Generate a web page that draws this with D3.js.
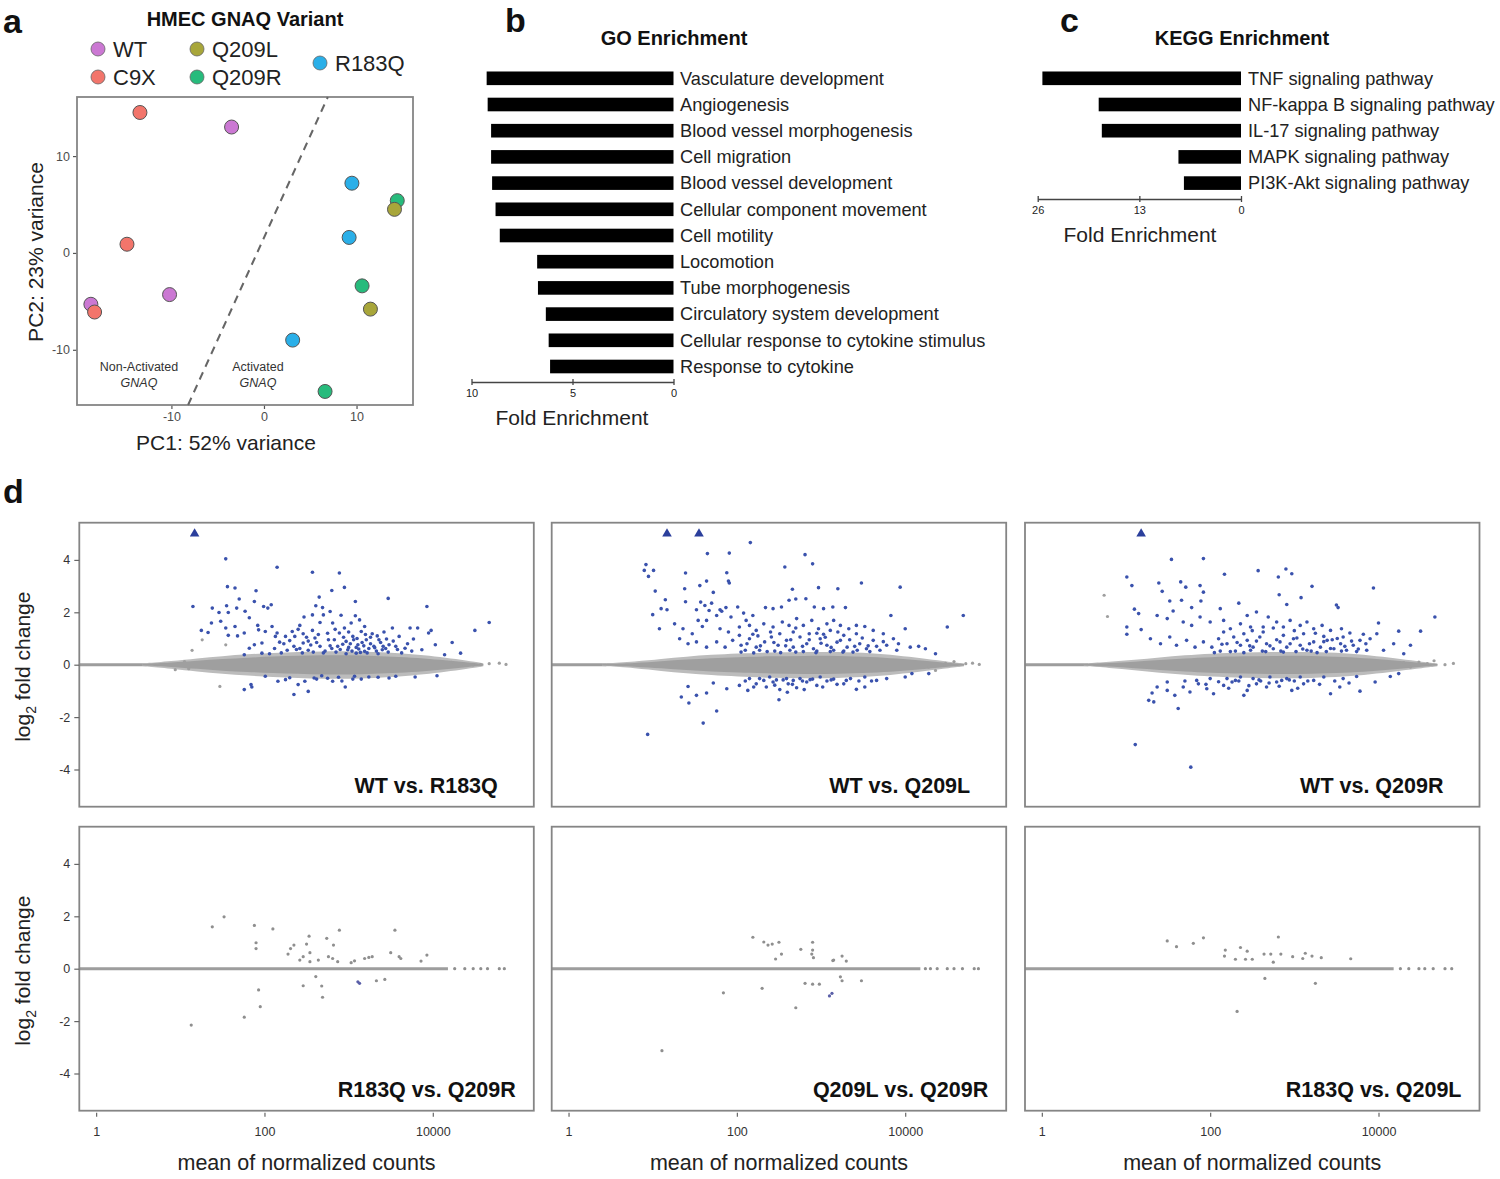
<!DOCTYPE html>
<html>
<head>
<meta charset="utf-8">
<script src="https://cdn.jsdelivr.net/npm/d3@7"></script>
<style>
  html, body { margin: 0; padding: 0; background: #fff; }
  svg { display: block; font-family: "Liberation Sans", Arial, Helvetica, sans-serif; }
</style>
</head>
<body>
<svg id="fig" width="1500" height="1179"></svg>
<script>
// ---------------- DATA ----------------
// Panel a: PCA
const pcaGroups = ["WT", "C9X", "Q209L", "Q209R", "R183Q"];
const pcaSample = ["C9X", "WT", "R183Q", "Q209R", "Q209L", "R183Q", "C9X", "Q209R", "WT", "Q209L", "WT", "C9X", "R183Q", "Q209R"];
const pcaPC1 = [-13.4, -3.5, 9.5, 14.4, 14.1, 9.2, -14.8, 10.6, -10.2, 11.5, -18.7, -18.3, 3.1, 6.6];
const pcaPC2 = [14.5, 13.0, 7.2, 5.4, 4.5, 1.6, 0.9, -3.4, -4.3, -5.8, -5.3, -6.1, -9.0, -14.3];
const pcaTicks = [-10, 0, 10];
const dividerPC1 = [-8.2, 6.9];
const dividerPC2 = [-15.7, 16.1];

// Panel b: GO enrichment
const goTerms = ["Vasculature development", "Angiogenesis", "Blood vessel morphogenesis", "Cell migration",
  "Blood vessel development", "Cellular component movement", "Cell motility", "Locomotion",
  "Tube morphogenesis", "Circulatory system development", "Cellular response to cytokine stimulus", "Response to cytokine"];
const goFold = [9.25, 9.2, 9.03, 9.03, 8.98, 8.81, 8.6, 6.75, 6.71, 6.32, 6.18, 6.11];
const goTicks = [10, 5, 0];

// Panel c: KEGG enrichment
const keggTerms = ["TNF signaling pathway", "NF-kappa B signaling pathway", "IL-17 signaling pathway",
  "MAPK signaling pathway", "PI3K-Akt signaling pathway"];
const keggFold = [25.4, 18.2, 17.8, 8.0, 7.3];
const keggTicks = [26, 13, 0];

// Panel d: MA plots  (points are [log10 mean of normalized counts, log2 fold change])
const maTitles = ["WT vs. R183Q", "WT vs. Q209L", "WT vs. Q209R", "R183Q vs. Q209R", "Q209L vs. Q209R", "R183Q vs. Q209L"];
const maYTicks = [-4, -2, 0, 2, 4];
const maXTicks = [1, 100, 10000];

// capped (triangle) points: log10 mean values, plotted at lfc = 5
const maTri1 = [1.17];
const maTri2 = [1.17, 1.55];
const maTri3 = [1.18];

// gray density band envelope per top panel (core and fuzzy outer edge)
const band1Lx = [0.55, 0.9, 1.2, 1.5, 1.8, 2.1, 2.4, 2.7, 3.0, 3.3, 3.6, 3.9, 4.15, 4.4, 4.6];
const band1Hi = [0.03, 0.08, 0.15, 0.22, 0.27, 0.31, 0.34, 0.36, 0.36, 0.34, 0.30, 0.24, 0.17, 0.09, 0.03];
const band1Lo = [-0.03, -0.08, -0.16, -0.23, -0.28, -0.32, -0.35, -0.38, -0.38, -0.35, -0.31, -0.25, -0.17, -0.09, -0.03];
const band1OutHi = [0.05, 0.14, 0.24, 0.33, 0.40, 0.45, 0.49, 0.51, 0.51, 0.49, 0.44, 0.36, 0.27, 0.16, 0.06];
const band1OutLo = [-0.05, -0.15, -0.26, -0.35, -0.42, -0.47, -0.51, -0.54, -0.54, -0.51, -0.46, -0.37, -0.27, -0.16, -0.06];
const band2Lx = [0.4, 0.8, 1.1, 1.4, 1.7, 2.0, 2.4, 2.8, 3.2, 3.6, 3.9, 4.2, 4.45, 4.7];
const band2Hi = [0.03, 0.06, 0.13, 0.20, 0.25, 0.29, 0.32, 0.34, 0.34, 0.30, 0.24, 0.16, 0.08, 0.03];
const band2Lo = [-0.03, -0.07, -0.14, -0.21, -0.26, -0.30, -0.34, -0.36, -0.35, -0.31, -0.25, -0.17, -0.09, -0.03];
const band2OutHi = [0.05, 0.12, 0.22, 0.31, 0.38, 0.43, 0.47, 0.49, 0.49, 0.44, 0.36, 0.25, 0.14, 0.05];
const band2OutLo = [-0.05, -0.13, -0.24, -0.33, -0.40, -0.45, -0.50, -0.52, -0.51, -0.46, -0.37, -0.26, -0.15, -0.06];
const band3Lx = [0.5, 0.8, 1.1, 1.4, 1.7, 2.0, 2.4, 2.8, 3.2, 3.6, 3.9, 4.2, 4.45, 4.7];
const band3Hi = [0.03, 0.06, 0.11, 0.18, 0.24, 0.29, 0.32, 0.34, 0.34, 0.30, 0.24, 0.16, 0.08, 0.03];
const band3Lo = [-0.03, -0.07, -0.13, -0.20, -0.26, -0.31, -0.34, -0.36, -0.35, -0.31, -0.25, -0.17, -0.09, -0.03];
const band3OutHi = [0.05, 0.11, 0.19, 0.28, 0.36, 0.42, 0.47, 0.49, 0.49, 0.44, 0.36, 0.25, 0.14, 0.05];
const band3OutLo = [-0.05, -0.12, -0.21, -0.31, -0.39, -0.46, -0.50, -0.52, -0.51, -0.46, -0.37, -0.26, -0.15, -0.06];

// zero-line extent (log10 mean where the straight line ends) per panel
const maLineEnd = [0.6, 0.45, 0.55, 4.18, 4.18, 4.18];

const maBlue1 = [[1.54,4.04],[2.15,3.72],[2.57,3.53],[2.89,3.50],[1.56,2.98],[1.65,2.93],[1.90,2.82],[2.80,2.83],[2.95,2.95],[1.15,2.22],
[1.88,2.41],[1.99,2.22],[2.04,2.16],[1.70,2.51],[2.08,2.29],[2.65,2.58],[2.61,2.25],[3.47,2.53],[3.93,2.22],[3.08,2.41],
[1.38,2.16],[1.46,1.99],[1.55,2.25],[1.57,1.99],[1.67,2.16],[1.77,2.04],[1.82,1.79],[1.37,1.59],[1.48,1.66],[1.54,1.40],
[1.65,1.46],[1.25,1.31],[1.33,1.23],[1.57,1.12],[1.68,1.10],[1.92,1.50],[1.76,1.21],[1.93,1.33],[2.01,1.27],[1.88,0.76],
[1.97,0.83],[2.13,1.08],[2.18,0.86],[2.25,1.08],[2.33,1.27],[2.36,1.08],[2.42,1.50],[2.47,1.82],[2.57,1.90],[2.69,2.18],
[2.70,1.90],[2.78,2.03],[2.91,1.89],[2.81,1.59],[2.66,1.61],[2.57,1.31],[2.46,1.18],[2.60,1.02],[2.46,0.83],[2.35,0.70],
[2.27,0.55],[2.52,0.55],[2.66,0.70],[2.76,0.95],[2.89,1.21],[2.95,1.40],[3.03,1.59],[3.08,1.87],[3.13,1.71],[3.19,1.46],
[3.15,1.27],[3.05,1.08],[2.97,0.89],[2.87,0.70],[2.99,0.57],[3.11,0.76],[3.21,0.95],[3.28,1.18],[3.36,0.95],[3.30,0.70],
[3.19,0.51],[3.09,0.44],[3.40,0.57],[3.48,0.76],[3.52,1.40],[3.60,1.08],[3.56,0.70],[3.67,0.63],[3.73,1.40],[3.82,1.40],
[3.77,0.98],[3.87,0.57],[3.95,1.21],[3.98,1.31],[4.03,0.76],[4.14,0.38],[4.23,0.85],[4.33,0.44],[4.50,1.31],[4.67,1.61],
[2.09,1.46],[2.15,1.21],[2.23,0.80],[1.97,0.44],[1.82,0.63],[1.76,0.38],
[2.72,0.52],[2.80,0.62],[2.85,0.48],[2.93,0.78],[3.00,0.66],[3.04,0.52],[3.12,0.60],[3.16,0.85],[3.24,0.62],[3.26,0.80],
[3.33,0.52],[3.38,0.85],[3.44,0.62],[2.62,0.85],[2.55,0.75],[2.42,0.62],[2.30,0.92],[2.50,1.05],[3.10,1.00],[2.94,1.05],
[3.34,1.10],[3.45,0.98],
[2.70,0.45],[2.78,0.72],[2.83,0.95],[2.90,0.58],[2.97,0.42],[3.02,0.80],[3.06,0.95],[3.09,0.66],[3.14,0.47],[3.18,0.72],
[3.22,0.45],[3.26,1.05],[3.31,0.65],[3.35,0.42],[3.41,0.70],[3.47,0.48],[3.53,0.90],[3.58,0.58],[3.63,0.45],[3.70,0.80],
[3.75,0.52],[2.58,0.48],[2.52,0.90],[2.45,0.45],[2.38,0.58],[2.20,0.45],[2.12,0.62],[2.06,0.42],[3.00,1.25],[3.20,1.15],
[2.84,1.35],[3.42,1.25],[2.75,1.20],[2.64,1.15],[2.40,1.35],
[1.76,-0.95],[1.84,-0.76],[1.85,-0.85],[2.01,-0.44],[2.16,-0.63],[2.25,-0.57],[2.35,-1.14],[2.40,-0.76],[2.48,-0.63],[2.52,-1.02],
[2.59,-0.51],[2.68,-0.42],[2.81,-0.63],[2.96,-0.85],[3.07,-0.44],[3.24,-0.47],[3.48,-0.51],[3.56,-0.44],[3.79,-0.47],[4.05,-0.42],
[2.75,-0.52],[2.88,-0.48],[3.15,-0.55],[2.30,-0.50],[3.05,-0.55],[2.92,-0.62],[3.35,-0.48],[2.62,-0.55]];
const maGray1 = [[1.14,0.55],[1.54,0.76],[1.47,-0.83],[1.26,0.95],[0.94,-0.19],[1.05,0.12],[1.10,-0.15],
[4.22,0.09],[4.36,0.04],[4.48,-0.01],[4.57,0.0],[4.67,0.04],[4.79,0.06],[4.87,0.01]];

const maBlue2 = [[2.16,4.66],[1.65,4.24],[1.91,4.26],[2.81,4.20],[2.90,3.85],[0.92,3.82],[1.01,3.60],[0.90,3.60],[0.95,3.37],[1.39,3.50],
[1.88,3.51],[1.91,3.12],[1.90,3.19],[1.64,3.19],[2.57,3.73],[3.48,3.12],[3.94,2.96],[1.03,2.81],[1.38,2.90],[1.56,3.02],
[1.72,2.76],[2.66,2.88],[2.82,2.52],[2.97,2.94],[3.20,2.90],[2.70,2.51],[2.62,2.46],[1.15,2.48],[1.39,2.40],[1.57,2.39],
[1.62,2.26],[1.70,2.35],[1.10,2.14],[1.17,2.10],[1.52,2.10],[1.67,2.07],[1.80,2.10],[1.87,2.18],[2.01,2.20],[1.00,1.91],
[1.54,1.69],[1.64,1.69],[1.76,1.88],[1.82,2.04],[1.93,1.82],[2.08,1.97],[2.19,1.88],[2.34,2.18],[2.43,2.14],[2.53,2.20],
[2.92,2.20],[3.03,2.14],[3.14,2.20],[3.29,2.18],[3.83,1.88],[4.69,1.88],[4.50,1.44],[4.00,1.37],[1.08,1.37],[1.26,1.56],
[1.36,1.37],[1.47,1.18],[1.59,1.46],[1.80,1.37],[1.90,1.25],[2.03,1.44],[2.11,1.69],[2.15,1.50],[2.23,1.31],[2.32,1.56],
[2.43,1.44],[2.54,1.63],[2.62,1.50],[2.71,1.76],[2.79,1.50],[2.89,1.69],[2.97,1.37],[3.07,1.56],[3.15,1.69],[3.23,1.50],
[3.33,1.37],[3.42,1.50],[3.52,1.46],[3.62,1.31],[3.74,1.18],[3.86,0.99],[3.92,0.80],[4.06,0.67],[4.24,0.61],[4.36,0.42],
[1.32,0.99],[1.42,0.80],[1.52,0.87],[1.64,0.67],[1.76,0.87],[1.86,0.67],[1.95,0.93],[2.05,0.74],[2.15,0.99],[2.23,0.67],
[2.33,0.87],[2.41,1.06],[2.49,0.74],[2.59,0.93],[2.67,0.67],[2.75,1.06],[2.83,0.80],[2.91,0.61],[2.99,0.99],[3.07,0.74],
[3.15,0.55],[3.23,0.93],[3.31,0.67],[3.38,0.48],[3.46,0.80],[3.54,0.61],[3.62,0.93],[3.70,0.55],[3.78,0.74],[3.90,0.55],
[2.03,1.12],[2.19,1.16],[2.51,1.18],[2.67,1.25],[2.86,1.18],[3.03,1.16],[3.11,1.31],[3.27,1.12],[3.42,1.18],[4.16,0.70],
[2.27,0.55],[2.45,0.52],[2.63,0.55],[2.79,0.50],[2.95,0.52],[3.11,0.50],[3.27,0.52],[3.43,0.55],[3.58,0.50],[2.10,0.55],
[2.05,0.48],[2.12,0.80],[2.20,0.45],[2.28,0.72],[2.36,0.50],[2.44,0.85],[2.52,0.46],[2.58,0.72],[2.64,0.95],[2.70,0.48],
[2.78,0.70],[2.86,0.95],[2.94,0.46],[3.00,0.82],[3.05,1.05],[3.12,0.66],[3.19,0.86],[3.26,0.48],[3.34,0.95],[3.40,0.70],
[3.49,1.02],[3.56,0.72],[3.66,0.70],[3.74,0.88],[2.70,1.40],[2.95,1.20],[3.20,1.25],[2.40,1.25],[2.25,1.10],
[0.94,-2.66],[1.60,-2.23],[1.76,-1.77],[2.50,-1.34],[1.34,-1.23],[1.43,-1.46],[1.52,-1.17],[1.64,-1.08],[1.42,-0.83],[1.72,-0.70],
[1.88,-0.92],[2.03,-0.79],[2.13,-0.98],[2.23,-0.73],[2.35,-0.85],[2.43,-0.66],[2.51,-0.95],[2.61,-0.73],[2.71,-0.88],[2.83,-0.66],
[2.95,-0.79],[3.07,-0.62],[3.19,-0.75],[3.27,-0.73],[3.42,-0.94],[3.52,-0.85],[3.66,-0.60],[3.78,-0.53],[4.00,-0.47],[4.08,-0.34],
[4.28,-0.34],[2.15,-0.53],[2.27,-0.53],[2.39,-0.47],[2.59,-0.53],[2.75,-0.53],[2.99,-0.47],[3.35,-0.53],[3.52,-0.47],[2.47,-0.58],
[2.67,-0.60],[2.87,-0.57],[3.15,-0.55],[3.60,-0.62],
[2.10,-0.62],[2.20,-0.85],[2.32,-0.60],[2.45,-0.78],[2.55,-0.58],[2.66,-0.75],[2.78,-0.62],[2.90,-0.55],[3.02,-0.85],[3.12,-0.58],
[3.30,-0.60],[3.45,-0.62],[2.80,-0.95],[2.60,-1.05]];
const maGray2 = [[4.48,0.05],[4.58,0.12],[4.72,0.04],[4.80,0.06],[4.88,0.01],[4.28,-0.09],[4.36,-0.22],[4.44,-0.02]];

const maBlue3 = [[1.54,4.02],[1.92,4.05],[2.17,3.45],[2.57,3.59],[2.81,3.35],[2.90,3.65],[2.97,3.47],[3.21,2.99],[3.94,2.93],[1.01,3.35],
[1.07,3.02],[1.39,3.12],[1.65,3.16],[1.71,2.96],[1.88,3.02],[1.92,2.77],[1.43,2.80],[1.52,2.43],[1.66,2.46],[1.89,2.43],
[2.34,2.35],[2.82,2.67],[2.91,2.30],[3.08,2.56],[3.50,2.28],[3.52,2.18],[4.67,1.82],[4.50,1.28],[4.24,1.28],[4.00,1.59],
[1.10,2.12],[1.15,1.95],[1.01,1.44],[1.01,1.16],[1.18,1.34],[1.37,1.88],[1.49,1.76],[1.56,2.05],[1.78,2.18],[1.68,1.63],
[1.78,1.50],[1.88,1.82],[2.00,1.63],[2.12,2.14],[2.16,1.69],[2.24,1.37],[2.36,1.56],[2.44,1.88],[2.48,1.44],[2.55,2.01],
[2.63,1.44],[2.69,1.82],[2.79,1.63],[2.87,1.44],[2.95,1.69],[3.07,1.50],[3.15,1.63],[3.23,1.37],[3.33,1.50],[3.43,1.31],
[3.56,1.37],[3.66,1.21],[3.82,1.16],[3.90,0.99],[3.98,1.18],[4.18,0.80],[4.38,0.74],
[1.29,0.99],[1.41,0.80],[1.52,1.06],[1.60,0.74],[1.72,0.93],[1.82,0.67],[1.92,0.87],[2.02,0.67],[2.10,0.99],[2.20,0.80],
[2.28,1.06],[2.36,0.74],[2.44,0.93],[2.51,0.67],[2.59,1.06],[2.67,0.80],[2.75,0.61],[2.83,0.87],[2.91,0.67],[2.99,0.99],
[3.07,0.74],[3.15,0.55],[3.23,0.87],[3.31,0.67],[3.39,0.93],[3.47,0.61],[3.55,0.80],[3.62,0.55],[3.70,0.74],[3.78,0.93],
[3.86,0.55],[4.06,0.55],[4.30,0.42],[2.16,1.25],[2.40,1.18],[2.63,1.25],[2.87,1.12],[3.11,1.18],[3.35,1.08],[3.58,1.06],
[2.30,0.52],[2.48,0.55],[2.66,0.50],[2.84,0.52],[3.02,0.50],[3.20,0.52],[3.38,0.50],[3.56,0.52],[3.74,0.50],[2.12,0.52],
[2.05,0.46],[2.14,0.78],[2.24,0.50],[2.32,0.85],[2.40,0.46],[2.47,0.72],[2.55,0.90],[2.62,0.52],[2.71,0.72],[2.79,0.95],
[2.87,0.48],[2.95,0.80],[3.03,1.02],[3.10,0.60],[3.18,0.80],[3.27,0.46],[3.35,0.88],[3.43,0.62],[3.51,1.00],[3.60,0.70],
[3.68,0.90],[3.76,0.60],[3.85,0.80],[2.50,1.30],[2.75,1.40],[3.00,1.30],[3.25,1.20],[3.45,0.95],
[1.11,-3.05],[1.77,-3.91],[1.62,-1.67],[1.27,-1.36],[1.33,-1.42],[1.31,-1.08],[1.37,-0.85],[1.49,-0.98],[1.58,-1.17],[1.68,-0.85],
[1.76,-1.04],[1.86,-0.73],[1.96,-0.92],[2.04,-1.11],[2.16,-0.79],[2.26,-0.66],[2.40,-1.17],[2.44,-0.98],[2.55,-0.73],[2.67,-0.85],
[2.79,-0.66],[2.97,-0.98],[3.11,-0.73],[3.23,-0.60],[3.43,-1.11],[3.54,-0.85],[3.78,-1.01],[3.96,-0.66],[4.14,-0.45],[4.24,-0.34],
[2.00,-0.53],[2.20,-0.53],[2.36,-0.47],[2.51,-0.53],[2.71,-0.47],[2.91,-0.53],[3.07,-0.47],[3.35,-0.47],[3.58,-0.53],[3.74,-0.45],
[1.84,-0.60],[1.49,-0.66],[2.30,-0.60],[2.60,-0.62],[2.85,-0.60],[3.00,-0.62],
[2.10,-0.65],[2.22,-0.90],[2.34,-0.62],[2.46,-0.80],[2.58,-0.58],[2.70,-0.70],[2.82,-0.82],[2.94,-0.58],[3.04,-0.90],[3.16,-0.62],
[3.30,-0.75],[3.48,-0.62],[3.65,-0.70],[1.95,-0.75],[1.70,-0.62]];
const maGray3 = [[0.74,2.65],[0.78,1.84],[4.30,0.08],[4.38,-0.09],[4.48,0.10],[4.58,0.04],[4.66,0.15],[4.79,0.0],[4.89,0.05]];

const maPts4 = [[1.13,-2.15],[1.38,1.60],[1.52,1.98],[1.76,-1.85],[1.88,1.65],[1.90,0.99],[1.90,0.77],[1.93,-0.81],[1.95,-1.45],[2.10,1.52],
[2.28,0.56],[2.31,0.77],[2.35,0.90],[2.42,0.33],[2.46,0.46],[2.46,-0.65],[2.50,0.94],[2.53,1.24],[2.54,0.61],[2.54,0.27],
[2.61,-0.30],[2.64,0.33],[2.68,-0.66],[2.69,-1.09],[2.74,1.16],[2.76,0.46],[2.82,0.90],[2.81,0.39],[2.89,1.47],[2.87,0.27],
[3.03,0.23],[3.07,0.30],[3.19,0.39],[3.24,0.43],[3.28,0.46],[3.33,-0.46],[3.43,-0.41],[3.50,0.61],[3.55,1.47],[3.60,0.46],
[3.62,0.39],[3.86,0.29],[3.93,0.52],
[4.26,0],[4.38,0],[4.48,0],[4.57,0],[4.65,0],[4.79,0],[4.85,0]];
const maBluePts4 = [[3.11,-0.50],[3.13,-0.56]];
const maPts5 = [[1.11,-3.13],[1.84,-0.92],[2.19,1.20],[2.30,-0.75],[2.32,1.02],[2.37,0.90],[2.42,0.94],[2.50,1.01],[2.46,0.37],[2.53,0.56],
[2.70,-1.49],[2.76,0.74],[2.81,-0.56],[2.90,1.01],[2.90,0.71],[2.89,0.56],[2.91,0.42],[2.90,-0.59],[2.98,-0.59],[3.14,0.31],
[3.15,0.33],[3.23,-0.31],[3.25,0.48],[3.25,-0.46],[3.30,0.29],[3.48,-0.46],
[4.24,0],[4.30,0],[4.38,0],[4.50,0],[4.58,0],[4.68,0],[4.82,0],[4.87,0]];
const maBluePts5 = [[3.10,-1.04],[3.13,-0.94]];
const maPts6 = [[1.49,1.06],[1.60,0.84],[1.80,0.97],[1.92,1.18],[2.18,0.71],[2.17,0.48],[2.30,0.36],[2.32,-1.63],[2.36,0.81],[2.42,0.36],
[2.44,0.67],[2.50,0.36],[2.64,0.56],[2.65,-0.37],[2.72,0.56],[2.75,0.25],[2.81,1.21],[2.84,0.56],[2.98,0.46],[3.10,0.39],
[3.13,0.59],[3.21,0.48],[3.25,-0.56],[3.32,0.42],[3.67,0.38],
[4.26,0],[4.36,0],[4.48,0],[4.55,0],[4.65,0],[4.79,0],[4.87,0]];
const maBluePts6 = [];

// ---------------- STYLE / LAYOUT ----------------
const groupColor = { "WT": "#cb78d3", "C9X": "#f2756b", "Q209L": "#a8a63a", "Q209R": "#27bb7c", "R183Q": "#2aafe8" };
const BLUE = "#3a52ad", GRAY = "#9f9f9f", GRAY_OUT = "#bcbcbc", BOX = "#858585";
const FONT_TXT = "#222";

const svg = d3.select("#fig");

function panelLabel(t, x, y) {
  svg.append("text").attr("x", x).attr("y", y).text(t)
    .attr("font-size", 34).attr("font-weight", "bold").attr("fill", "#111");
}
panelLabel("a", 3, 33);
panelLabel("b", 505, 32);
panelLabel("c", 1060, 32);
panelLabel("d", 3, 503);

// ---------------- Panel a ----------------
(function () {
  const L = 77, R = 413, T = 97, B = 405;
  const x = d3.scaleLinear().domain([-20.2, 16.1]).range([L, R]);
  const y = d3.scaleLinear().domain([-15.7, 16.1]).range([B, T]);
  const g = svg.append("g");
  const fmt = d => String(d);

  const xa = g.append("g").attr("transform", `translate(0,${B})`)
    .call(d3.axisBottom(x).tickValues(pcaTicks).tickSize(4).tickPadding(3).tickFormat(fmt));
  const ya = g.append("g").attr("transform", `translate(${L},0)`)
    .call(d3.axisLeft(y).tickValues(pcaTicks).tickSize(4).tickPadding(3).tickFormat(fmt));
  [xa, ya].forEach(a => {
    a.select(".domain").remove();
    a.selectAll(".tick line").attr("stroke", "#555").attr("stroke-width", 1.2);
    a.selectAll(".tick text").attr("font-size", 12.5).attr("fill", "#4d4d4d").attr("font-family", "Liberation Sans, Arial");
  });

  g.append("rect").attr("x", L).attr("y", T).attr("width", R - L).attr("height", B - T)
    .attr("fill", "none").attr("stroke", BOX).attr("stroke-width", 1.8);

  g.append("line")
    .attr("x1", x(dividerPC1[0])).attr("y1", y(dividerPC2[0]))
    .attr("x2", x(dividerPC1[1])).attr("y2", y(dividerPC2[1]))
    .attr("stroke", "#666").attr("stroke-width", 2).attr("stroke-dasharray", "8,6");

  const ann = [["Non-Activated", 139], ["Activated", 258]];
  ann.forEach(([t, cx]) => {
    g.append("text").attr("x", cx).attr("y", 371).attr("text-anchor", "middle")
      .attr("font-size", 12.5).attr("fill", "#333").text(t);
    g.append("text").attr("x", cx).attr("y", 387).attr("text-anchor", "middle")
      .attr("font-size", 12.5).attr("font-style", "italic").attr("fill", "#333").text("GNAQ");
  });

  g.selectAll("circle.pt").data(pcaSample).join("circle").attr("class", "pt")
    .attr("cx", (d, i) => x(pcaPC1[i])).attr("cy", (d, i) => y(pcaPC2[i])).attr("r", 7)
    .attr("fill", d => groupColor[d]).attr("stroke", "#555").attr("stroke-width", 1);

  g.append("text").attr("x", 226).attr("y", 450).attr("text-anchor", "middle")
    .attr("font-size", 21).attr("fill", FONT_TXT).text("PC1: 52% variance");
  g.append("text").attr("transform", "translate(43,252) rotate(-90)").attr("text-anchor", "middle")
    .attr("font-size", 21).attr("fill", FONT_TXT).text("PC2: 23% variance");

  // legend
  g.append("text").attr("x", 245).attr("y", 26).attr("text-anchor", "middle")
    .attr("font-size", 20).attr("font-weight", "bold").attr("fill", "#111").text("HMEC GNAQ Variant");
  const legPos = { "WT": [98, 49], "C9X": [98, 77], "Q209L": [197, 49], "Q209R": [197, 77], "R183Q": [320, 63] };
  pcaGroups.forEach(k => {
    const [cx, cy] = legPos[k];
    g.append("circle").attr("cx", cx).attr("cy", cy).attr("r", 7).attr("fill", groupColor[k])
      .attr("stroke", "#666").attr("stroke-width", 0.8);
    g.append("text").attr("x", cx + 15).attr("y", cy + 8).attr("font-size", 22).attr("fill", FONT_TXT).text(k);
  });
})();

// ---------------- Panel b & c (bar charts) ----------------
function enrichment(terms, vals, ticks, domMax, x0, x1, top, step, axisY, labelX, title, titleX, foldX, foldY) {
  const g = svg.append("g");
  const x = d3.scaleLinear().domain([0, domMax]).range([x1, x0]);
  const y = d3.scaleBand().domain(terms).range([top, top + step * terms.length]).paddingInner(0.48).paddingOuter(0.24);
  g.selectAll("rect").data(terms).join("rect")
    .attr("x", (d, i) => x(vals[i])).attr("y", d => y(d))
    .attr("width", (d, i) => x(0) - x(vals[i])).attr("height", y.bandwidth()).attr("fill", "#000");
  g.selectAll("text.lab").data(terms).join("text").attr("class", "lab")
    .attr("x", labelX).attr("y", d => y(d) + y.bandwidth() / 2 + 6.3)
    .attr("font-size", 18.2).attr("fill", FONT_TXT).text(d => d);
  const ax = g.append("g").attr("transform", `translate(0,${axisY})`)
    .call(d3.axisBottom(x).tickValues(ticks).tickSize(3).tickSizeOuter(0).tickPadding(4));
  ax.select(".domain").attr("stroke", "#444").attr("stroke-width", 1.3);
  ax.selectAll(".tick line").attr("stroke", "#444").attr("y1", -3).attr("y2", 3).attr("stroke-width", 1.3);
  ax.selectAll(".tick text").attr("font-size", 11).attr("fill", "#222").attr("font-family", "Liberation Sans, Arial");
  g.append("text").attr("x", titleX).attr("y", 45).attr("text-anchor", "middle")
    .attr("font-size", 20).attr("font-weight", "bold").attr("fill", "#111").text(title);
  g.append("text").attr("x", foldX).attr("y", foldY).attr("text-anchor", "middle")
    .attr("font-size", 21).attr("fill", FONT_TXT).text("Fold Enrichment");
}
enrichment(goTerms, goFold, goTicks, 10, 471.5, 673.5, 65.2, 26.2, 382, 680, "GO Enrichment", 674, 572, 425);
enrichment(keggTerms, keggFold, keggTicks, 26, 1037.7, 1241, 65.2, 26.2, 199, 1248, "KEGG Enrichment", 1242, 1140, 242);

// ---------------- Panel d (MA plots) ----------------
const colX0 = [79.3, 551.7, 1025];
const rowY0 = [522.7, 826.7];
const boxW = 454.5, boxH = 284;

const topBlue = [maBlue1, maBlue2, maBlue3];
const topGray = [maGray1, maGray2, maGray3];
const topTri = [maTri1, maTri2, maTri3];
const topBand = [[band1Lx, band1Hi, band1Lo, band1OutHi, band1OutLo],
                 [band2Lx, band2Hi, band2Lo, band2OutHi, band2OutLo],
                 [band3Lx, band3Hi, band3Lo, band3OutHi, band3OutLo]];
const botPts = [maPts4, maPts5, maPts6];
const botBlue = [maBluePts4, maBluePts5, maBluePts6];

for (let p = 0; p < 6; p++) {
  const col = p % 3, row = Math.floor(p / 3);
  const L = colX0[col], T = rowY0[row];
  const x = d3.scaleLog().domain([Math.pow(10, -0.2), Math.pow(10, 5.2)]).range([L, L + boxW]);
  const y = d3.scaleLinear().domain([-5.42, 5.42]).range([T + boxH, T]);
  const g = svg.append("g");
  const clipId = "clip" + p;
  g.append("clipPath").attr("id", clipId).append("rect")
    .attr("x", L).attr("y", T).attr("width", boxW).attr("height", boxH);
  const pg = g.append("g").attr("clip-path", `url(#${clipId})`);
  const X = lx => x(Math.pow(10, lx));

  // zero line
  pg.append("line").attr("x1", L).attr("x2", X(maLineEnd[p])).attr("y1", y(0)).attr("y2", y(0))
    .attr("stroke", "#9d9d9d").attr("stroke-width", 3);

  if (row === 0) {
    const [bl, bh, blo, boh, bol] = topBand[col];
    const area = d3.area().x(d => X(d[0])).y0(d => y(d[2])).y1(d => y(d[1])).curve(d3.curveBasis);
    pg.append("path").datum(bl.map((v, i) => [v, boh[i], bol[i]])).attr("d", area).attr("fill", GRAY_OUT);
    pg.append("path").datum(bl.map((v, i) => [v, bh[i], blo[i]])).attr("d", area).attr("fill", GRAY);
    pg.selectAll("circle.g").data(topGray[col]).join("circle").attr("class", "g")
      .attr("cx", d => X(d[0])).attr("cy", d => y(d[1])).attr("r", 1.6).attr("fill", GRAY);
    pg.selectAll("circle.b").data(topBlue[col]).join("circle").attr("class", "b")
      .attr("cx", d => X(d[0])).attr("cy", d => y(d[1])).attr("r", 1.8).attr("fill", BLUE);
    const tri = d3.symbol().type(d3.symbolTriangle).size(40);
    pg.selectAll("path.t").data(topTri[col]).join("path").attr("class", "t")
      .attr("transform", d => `translate(${X(d)},${y(5)})`).attr("d", tri).attr("fill", "#2b3f9c");
  } else {
    pg.selectAll("circle.g").data(botPts[col]).join("circle").attr("class", "g")
      .attr("cx", d => X(d[0])).attr("cy", d => y(d[1])).attr("r", 1.6).attr("fill", "#8f8f8f");
    pg.selectAll("circle.b").data(botBlue[col]).join("circle").attr("class", "b")
      .attr("cx", d => X(d[0])).attr("cy", d => y(d[1])).attr("r", 1.6).attr("fill", "#5a5fa8");
  }

  g.append("rect").attr("x", L).attr("y", T).attr("width", boxW).attr("height", boxH)
    .attr("fill", "none").attr("stroke", BOX).attr("stroke-width", 1.8);

  // title
  g.append("text").attr("x", L + boxW - (row === 0 ? 36 : 18)).attr("y", T + boxH - 14)
    .attr("text-anchor", "end").attr("font-size", 21.5).attr("font-weight", "bold").attr("fill", "#111")
    .text(maTitles[p]);

  if (col === 0) {
    const ya = g.append("g").attr("transform", `translate(${L},0)`)
      .call(d3.axisLeft(y).tickValues(maYTicks).tickSize(5).tickPadding(4).tickFormat(d => String(d)));
    ya.select(".domain").remove();
    ya.selectAll(".tick line").attr("stroke", "#666").attr("stroke-width", 1.2);
    ya.selectAll(".tick text").attr("font-size", 12.5).attr("fill", "#333").attr("font-family", "Liberation Sans, Arial");
    const yl = g.append("text").attr("transform", `translate(30,${T + boxH / 2 + 2}) rotate(-90)`)
      .attr("text-anchor", "middle").attr("font-size", 21).attr("fill", FONT_TXT);
    yl.append("tspan").text("log");
    yl.append("tspan").attr("font-size", 14).attr("dy", 6).text("2");
    yl.append("tspan").attr("dy", -6).text(" fold change");
  }
  if (row === 1) {
    const xa = g.append("g").attr("transform", `translate(0,${T + boxH})`)
      .call(d3.axisBottom(x).tickValues(maXTicks).tickSize(6).tickPadding(10).tickFormat(d3.format("d")));
    xa.select(".domain").remove();
    xa.selectAll(".tick line").attr("stroke", "#666").attr("stroke-width", 1.2).attr("y1", 2);
    xa.selectAll(".tick text").attr("font-size", 12.5).attr("fill", "#333").attr("font-family", "Liberation Sans, Arial");
    g.append("text").attr("x", L + boxW / 2).attr("y", 1170).attr("text-anchor", "middle")
      .attr("font-size", 21.5).attr("fill", FONT_TXT).text("mean of normalized counts");
  }
}
</script>
